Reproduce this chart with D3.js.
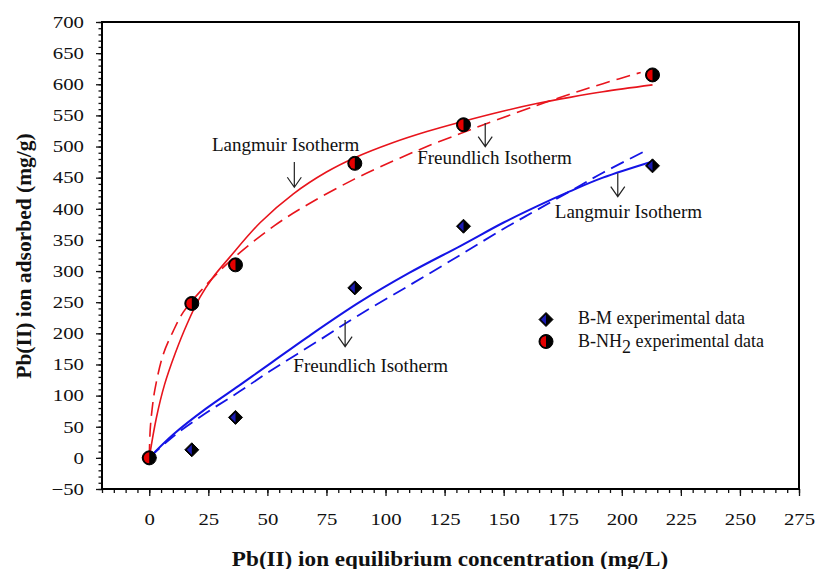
<!DOCTYPE html>
<meta charset="utf-8">
<style>
  body { margin: 0; background: #fff; }
  text { font-family: "Liberation Serif", "Times New Roman", serif; fill: #111; }
</style>
<body>
<script src="https://d3js.org/d3.v7.min.js"></script>
<script>
  // experimental data
  var ceq   = [0, 18, 36.5, 87, 133, 213];
  var qeNH2 = [0, 248, 310, 473, 535, 615];
  var qeBM  = [0, 13, 65, 273, 372, 469];

  // isotherm curves
  var langNH2C = [0, 3, 6.5, 11, 16, 21.5, 27, 34, 47, 61, 75, 87, 103, 117.5, 131.5, 150, 164, 178, 192, 213];
  var langNH2Q = [0, 64, 118, 168, 215, 258, 290, 322, 378, 424, 459, 482, 506, 524, 539, 557, 569, 579, 588, 599];
  var freuNH2C = [0, 0.4, 1.2, 2.4, 5.9, 10.2, 14.4, 21.5, 34.2, 53, 68, 87, 103.4, 117.5, 131.7, 141.5, 164, 178, 192, 208];
  var freuNH2Q = [0, 45, 78, 110, 166, 204, 234, 267, 316, 373, 409, 448, 477, 500, 521, 535, 566, 584, 601, 619];
  var langBMC  = [0, 10, 24, 38, 51, 67, 89, 110, 132, 150, 164, 178, 192, 213];
  var langBMQ  = [0, 37, 79, 116, 151, 194, 250, 297, 341, 378, 404, 428, 450, 476];
  var freuBMC  = [0, 10, 24, 38, 51, 72, 89, 110.5, 131.7, 150, 164, 178, 192, 210];
  var freuBMQ  = [0, 34, 72, 106, 139, 189, 230, 278, 326, 368, 398, 428, 458, 493];

  var xTicks = [0, 25, 50, 75, 100, 125, 150, 175, 200, 225, 250, 275];
  var yTicks = [-50, 0, 50, 100, 150, 200, 250, 300, 350, 400, 450, 500, 550, 600, 650, 700];

  var svg = d3.select("body").append("svg")
          .attr("width", 816)
          .attr("height", 569);

  var margin = {top: 22, left: 102},
          width = 697,
          height = 467,
          g = svg.append("g").attr("transform", "translate(" + margin.left + "," + margin.top + ")");

  var x = d3.scaleLinear().domain([-20, 275]).range([0, width]);
  var y = d3.scaleLinear().domain([-50, 700]).range([height, 0]);

  function stretch(sel, k) {
    sel.each(function() {
      var w = this.getComputedTextLength();
      d3.select(this).attr("textLength", w * k).attr("lengthAdjust", "spacingAndGlyphs");
    });
  }

  // minor ticks
  g.append("g")
          .attr("transform", "translate(0," + height + ")")
          .call(d3.axisBottom(x).tickValues(d3.range(-20, 276, 5)).tickSize(4).tickFormat(""))
          .call(function(a) { a.select(".domain").remove(); });
  g.append("g")
          .call(d3.axisLeft(y).tickValues(d3.range(-50, 701, 10)).tickSize(3.5).tickFormat(""))
          .call(function(a) { a.select(".domain").remove(); });

  // major ticks + labels
  var xAxis = g.append("g")
          .attr("transform", "translate(0," + height + ")")
          .call(d3.axisBottom(x).tickValues(xTicks).tickSize(7).tickPadding(17));
  var yAxis = g.append("g")
          .call(d3.axisLeft(y).tickValues(yTicks).tickSize(6).tickPadding(12));

  [xAxis, yAxis].forEach(function(a) {
    a.select(".domain").remove();
    a.selectAll("text").style("font-size", "16.5px").attr("fill", "#111");
    stretch(a.selectAll("text"), 1.26);
  });
  g.selectAll(".tick line").attr("stroke", "#111").attr("stroke-width", 1.3);

  // frame
  g.append("rect")
          .attr("width", width)
          .attr("height", height)
          .attr("fill", "none")
          .attr("stroke", "#000")
          .attr("stroke-width", 2);

  var line = d3.line()
          .x(function(d) { return x(d[0]); })
          .y(function(d) { return y(d[1]); })
          .curve(d3.curveCatmullRom.alpha(0.5));

  var curves = [
    {c: langNH2C, q: langNH2Q, color: "#e8141c", w: 1.6, dash: null},
    {c: freuNH2C, q: freuNH2Q, color: "#e8141c", w: 1.6, dash: "14,7"},
    {c: langBMC,  q: langBMQ,  color: "#1414e6", w: 2,   dash: null},
    {c: freuBMC,  q: freuBMQ,  color: "#1414e6", w: 1.8, dash: "14,7"}
  ];

  g.selectAll(".curve")
          .data(curves)
          .enter().append("path")
          .attr("class", "curve")
          .attr("d", function(d) { return line(d3.zip(d.c, d.q)); })
          .attr("fill", "none")
          .attr("stroke", function(d) { return d.color; })
          .attr("stroke-width", function(d) { return d.w; })
          .attr("stroke-dasharray", function(d) { return d.dash; });

  // markers
  function diamond(sel) {
    sel.append("path").attr("d", "M0,-7L7,0L0,7L-7,0Z").attr("fill", "#000").attr("stroke", "#000");
    sel.append("path").attr("d", "M0,-5L0,5L-5,0Z").attr("fill", "#1a1ab4");
  }
  function halfCircle(sel) {
    sel.append("circle").attr("r", 7).attr("fill", "#000").attr("stroke", "#000");
    sel.append("path").attr("d", "M0,-5.5A5.5,5.5 0 0,0 0,5.5Z").attr("fill", "#e60000");
  }

  g.selectAll(".bm")
          .data(d3.zip(ceq, qeBM))
          .enter().append("g")
          .attr("class", "bm")
          .attr("transform", function(d) { return "translate(" + x(d[0]) + "," + y(d[1]) + ")"; })
          .call(diamond);

  g.selectAll(".nh2")
          .data(d3.zip(ceq, qeNH2))
          .enter().append("g")
          .attr("class", "nh2")
          .attr("transform", function(d) { return "translate(" + x(d[0]) + "," + y(d[1]) + ")"; })
          .call(halfCircle);

  // annotations (text anchor and arrow in data units)
  var notes = [
    {text: "Langmuir Isotherm",   tx: 57.7,  tq: 492.9, ax: 61.4,  a0: 475,   a1: 434.6},
    {text: "Freundlich Isotherm", tx: 146.1, tq: 471.5, ax: 142.2, a0: 537.8, a1: 499.8},
    {text: "Langmuir Isotherm",   tx: 202.8, tq: 384.8, ax: 198.3, a0: 457,   a1: 419.5},
    {text: "Freundlich Isotherm", tx: 93.7,  tq: 138.4, ax: 82.9,  a0: 221.5, a1: 178.6}
  ];

  var note = g.selectAll(".note")
          .data(notes)
          .enter().append("g")
          .attr("class", "note");

  note.append("text")
          .attr("x", function(d) { return x(d.tx); })
          .attr("y", function(d) { return y(d.tq); })
          .attr("text-anchor", "middle")
          .style("font-size", "19px")
          .text(function(d) { return d.text; });

  note.append("path")
          .attr("d", function(d) {
            var px = x(d.ax), p0 = y(d.a0), p1 = y(d.a1);
            return "M" + px + "," + p0 + "L" + px + "," + p1 +
                    "M" + (px - 7) + "," + (p1 - 10) + "L" + px + "," + p1 + "L" + (px + 7) + "," + (p1 - 10);
          })
          .attr("fill", "none")
          .attr("stroke", "#222")
          .attr("stroke-width", 1.2);

  // legend
  var legend = svg.append("g");
  legend.append("g").attr("transform", "translate(546,319.5)").call(diamond);
  legend.append("g").attr("transform", "translate(546,341.5)").call(halfCircle);
  legend.append("text")
          .attr("x", 578).attr("y", 324.3)
          .style("font-size", "18px")
          .text("B-M experimental data");
  var l2 = legend.append("text")
          .attr("x", 578).attr("y", 346.7)
          .style("font-size", "18px");
  l2.append("tspan").text("B-NH");
  l2.append("tspan").attr("dy", 6).text("2");
  l2.append("tspan").attr("dy", -6).text(" experimental data");

  // axis titles
  svg.append("text")
          .attr("x", 450)
          .attr("y", 566)
          .attr("text-anchor", "middle")
          .style("font-size", "20.5px")
          .style("font-weight", "bold")
          .text("Pb(II) ion equilibrium concentration (mg/L)")
          .call(stretch, 1.13);

  svg.append("text")
          .attr("transform", "translate(31,256) rotate(-90)")
          .attr("text-anchor", "middle")
          .style("font-size", "21.5px")
          .style("font-weight", "bold")
          .text("Pb(II) ion adsorbed (mg/g)");
</script>
</body>
